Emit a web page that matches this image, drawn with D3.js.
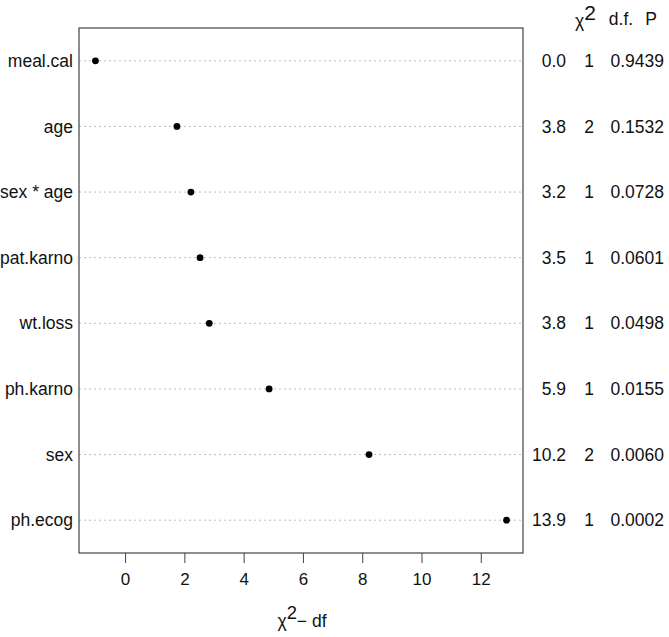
<!DOCTYPE html>
<html>
<head>
<meta charset="utf-8">
<script src="https://cdn.jsdelivr.net/npm/d3@7"></script>
<style>
  html, body { margin: 0; padding: 0; background: #fff; }
  text { font-family: "Liberation Sans", Arial, sans-serif; fill: #111; }
</style>
</head>
<body>
<svg id="chart" width="669" height="637"></svg>
<script>
// ---- data ----
const factors = ["meal.cal", "age", "sex * age", "pat.karno", "wt.loss", "ph.karno", "sex", "ph.ecog"];
const chiSq   = [0.00, 3.75, 3.22, 3.53, 3.84, 5.86, 10.23, 13.87];
const dfs     = [1, 2, 1, 1, 1, 1, 2, 1];
const pValues = ["0.9439", "0.1532", "0.0728", "0.0601", "0.0498", "0.0155", "0.0060", "0.0002"];
const xTicks  = [0, 2, 4, 6, 8, 10, 12];

const rows = factors.map((f, i) => ({ f, chi: chiSq[i], df: dfs[i], p: pValues[i], v: chiSq[i] - dfs[i] }));

const svg = d3.select("#chart");
const pL = 79, pR = 523, pT = 28, pB = 553;
const fs = 17.5;

const ext = d3.extent(rows, d => d.v);
const pad = (ext[1] - ext[0]) * 0.04;
const x = d3.scaleLinear().domain([ext[0] - pad, ext[1] + pad]).range([pL, pR]);
const y = d3.scalePoint().domain(factors).range([pT, pB]).padding(0.5);

// grid lines
svg.append("g").selectAll("line").data(rows).join("line")
  .attr("x1", pL).attr("x2", pR)
  .attr("y1", d => y(d.f)).attr("y2", d => y(d.f))
  .attr("stroke", "#bdbdbd").attr("stroke-width", 1)
  .attr("stroke-dasharray", "2,3");

// frame
svg.append("rect").attr("x", pL).attr("y", pT)
  .attr("width", pR - pL).attr("height", pB - pT)
  .attr("fill", "none").attr("stroke", "#444").attr("stroke-width", 1.2);

// points
svg.append("g").selectAll("circle").data(rows).join("circle")
  .attr("cx", d => x(d.v)).attr("cy", d => y(d.f)).attr("r", 3.4)
  .attr("fill", "#000");

// left labels
svg.append("g").selectAll("text").data(rows).join("text")
  .attr("x", pL - 6).attr("y", d => y(d.f)).attr("dy", "0.35em")
  .attr("text-anchor", "end").attr("font-size", fs)
  .text(d => d.f);

// x axis
const xAxis = d3.axisBottom(x).tickValues(xTicks).tickSize(10).tickPadding(10);
const gx = svg.append("g").attr("transform", `translate(0,${pB})`).call(xAxis);
gx.select(".domain").remove();
gx.selectAll(".tick line").attr("stroke", "#444");
gx.selectAll(".tick text").attr("font-size", 17).attr("fill", "#111")
  .attr("font-family", "Liberation Sans, Arial, sans-serif");

// x axis label
const xl = svg.append("text").attr("x", 302).attr("y", 627).attr("text-anchor", "middle").attr("font-size", fs);
xl.append("tspan").text("χ");
xl.append("tspan").attr("dy", -8).attr("font-size", fs * 1.05).text("2");
xl.append("tspan").attr("dy", 8).text("− df");

// right columns
const colChi = 566, colDf = 589, colP = 664;
svg.append("g").selectAll("text").data(rows).join("text")
  .attr("x", colChi).attr("y", d => y(d.f)).attr("dy", "0.35em")
  .attr("text-anchor", "end").attr("font-size", fs)
  .text(d => d.chi.toFixed(1));
svg.append("g").selectAll("text").data(rows).join("text")
  .attr("x", colDf).attr("y", d => y(d.f)).attr("dy", "0.35em")
  .attr("text-anchor", "middle").attr("font-size", fs)
  .text(d => d.df);
svg.append("g").selectAll("text").data(rows).join("text")
  .attr("x", colP).attr("y", d => y(d.f)).attr("dy", "0.35em")
  .attr("text-anchor", "end").attr("font-size", fs)
  .text(d => d.p);

// header
const h = svg.append("text").attr("x", 575).attr("y", 27).attr("font-size", fs);
h.append("tspan").text("χ");
h.append("tspan").attr("dy", -7).attr("font-size", fs * 1.2).text("2");
svg.append("text").attr("x", 621).attr("y", 25).attr("text-anchor", "middle").attr("font-size", fs).text("d.f.");
svg.append("text").attr("x", 651).attr("y", 25).attr("text-anchor", "middle").attr("font-size", fs).text("P");
</script>
</body>
</html>
